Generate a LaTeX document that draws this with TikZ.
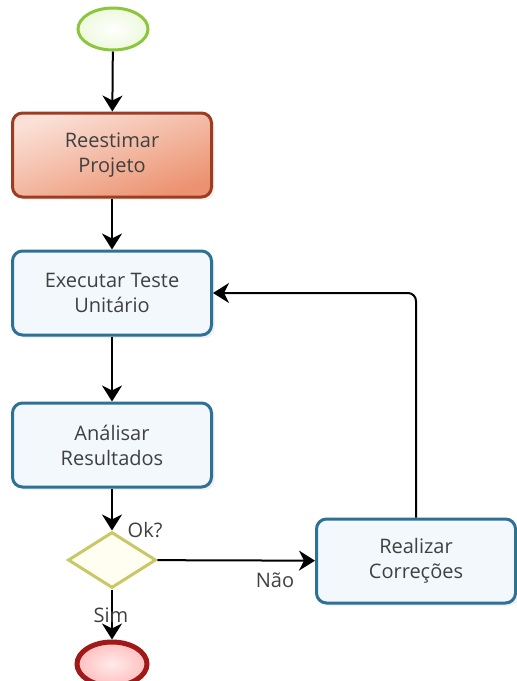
\documentclass[tikz,border=0pt]{standalone}
\usepackage{fontspec}
\setmainfont{Open Sans}
\usetikzlibrary{arrows.meta,shapes.geometric,shadows}
\definecolor{taskblue}{HTML}{2E7196}
\definecolor{taskfill}{HTML}{F3F8FD}
\definecolor{redline}{HTML}{9E3C22}
\definecolor{reesttop}{HTML}{FAE0D6}
\definecolor{reestbot}{HTML}{EC9270}
\definecolor{startgreen}{HTML}{8CC63F}
\definecolor{startfill}{HTML}{EEF9DC}
\definecolor{gateline}{HTML}{C8C864}
\definecolor{endred}{HTML}{A01818}
\begin{document}
\begin{tikzpicture}[x=0.5pt,y=-0.5pt,
    every node/.style={font=\fontsize{10}{12.5}\selectfont, text=black!75, align=center},
    task/.style={draw=taskblue, line width=1.5pt, rounded corners=5pt, fill=taskfill,
      minimum width=99.5pt, minimum height=42pt,
      drop shadow={opacity=0.12, shadow xshift=1.5pt, shadow yshift=-1.5pt}},
    flow/.style={-{Stealth[length=8pt,width=10pt,inset=2.5pt]}, line width=1pt}]
    \useasboundingbox (0,0) rectangle (516,681);
    \node[ellipse,draw=startgreen,line width=1.5pt,inner color=white,outer color=startfill,minimum width=35pt,minimum height=21pt] (start) at (113,29) {};
    \node[task,draw=redline,shading=axis,top color=reesttop,bottom color=reestbot,shading angle=20] (reest) at (112,155) {Reestimar\\Projeto};
    \node[task] (exec) at (112,293) {Executar Teste\\Unitário};
    \node[task] (anal) at (112,445) {Análisar\\Resultados};
    \node[diamond,draw=gateline,line width=1.5pt,fill=yellow!6,minimum width=44pt,minimum height=28pt,inner sep=0pt] (gate) at (112,560) {};
    \node[ellipse,draw=endred,line width=2.5pt,inner color=red!8,outer color=red!25,minimum width=35pt,minimum height=22pt] (end) at (112,664) {};
    \node[task] (corr) at (416,561) {Realizar\\Correções};
    \draw[flow] (start) -- (reest);
    \draw[flow] (reest) -- (exec);
    \draw[flow] (exec) -- (anal);
    \draw[flow] (anal) -- (gate);
    \draw[flow] (gate) -- (end);
    \draw[flow] (gate) -- (corr);
    \draw[flow,rounded corners=4pt] (corr.north) |- (exec.east);
    \node (ok) at (145,530) {Ok?};
    \node (sim) at (111,615) {Sim};
    \node (nao) at (275,580) {Não};
\end{tikzpicture}
\end{document}
